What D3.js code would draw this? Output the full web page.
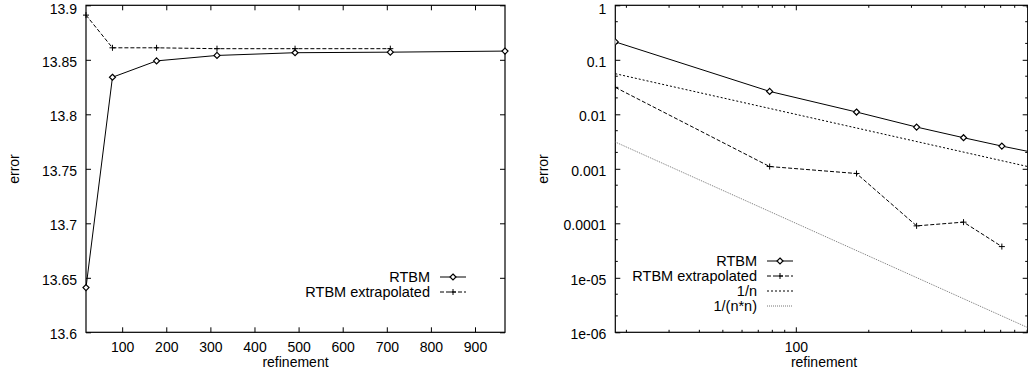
<!DOCTYPE html>
<html lang="en">
<head>
<meta charset="UTF-8">
<title>RTBM refinement</title>
<style>
  body { margin: 0; background: #fff; }
  svg { display: block; font-family: "Liberation Sans", Arial, sans-serif; }
  .frame { fill: none; stroke: #000; stroke-width: 1.2; }
  .tick line { stroke: #000; stroke-width: 1; }
  .tick text { font-size: 14px; fill: #000; }
  .label { font-size: 14px; fill: #000; }
  .legend text { font-size: 14.5px; fill: #000; }
</style>
</head>
<body>
<svg></svg>
<script src="https://d3js.org/d3.v7.min.js"></script>
<script>
  // refinement levels (x) and the two result series
  const refinement = [18, 78, 178, 315, 492, 708, 968];
  const rtbm = [13.641, 13.834, 13.849, 13.854, 13.8565, 13.857, 13.858];
  const rtbmExtrap = [13.891, 13.861, 13.861, 13.8602, 13.8602, 13.8602];

  // errors for the log-log plot
  const rtbmError = [0.213, 0.0263, 0.0110, 0.00583, 0.00372, 0.00261, 0.00197];
  const extrapError = [0.0312, 0.0011, 0.00082, 0.0000897, 0.000105, 0.0000374];

  // reference slopes, end points
  const refX = [18, 905];
  const invN = [0.0556, 0.0011];
  const invN2 = [0.0031, 0.00000122];

  const leftXTicks = [100, 200, 300, 400, 500, 600, 700, 800, 900];
  const leftYTicks = [13.6, 13.65, 13.7, 13.75, 13.8, 13.85, 13.9];
  const leftYLabels = ['13.6', '13.65', '13.7', '13.75', '13.8', '13.85', '13.9'];
  const rightYTicks = [1, 0.1, 0.01, 0.001, 0.0001, 0.00001, 0.000001];
  const rightYLabels = ['1', '0.1', '0.01', '0.001', '0.0001', '1e-05', '1e-06'];

  let width = 1028,
    height = 372;

  let svg = d3.select('svg')
    .attr('width', width)
    .attr('height', height);

  svg.append('defs').append('clipPath')
    .attr('id', 'clipR')
    .append('rect')
    .attr('x', 615.3).attr('y', 5.3)
    .attr('width', 412.4).attr('height', 327);

  function diamond(g, pts) {
    g.selectAll(null).data(pts).enter().append('path')
      .attr('d', d => `M${d[0]},${d[1] - 3}L${d[0] + 3},${d[1]}L${d[0]},${d[1] + 3}L${d[0] - 3},${d[1]}Z`)
      .attr('fill', '#fff')
      .attr('stroke', '#000')
      .attr('stroke-width', 1.2);
  }

  function plus(g, pts) {
    g.selectAll(null).data(pts).enter().append('path')
      .attr('d', d => `M${d[0] - 3},${d[1]}H${d[0] + 3}M${d[0]},${d[1] - 3}V${d[1] + 3}`)
      .attr('stroke', '#000')
      .attr('stroke-width', 1);
  }

  function frameAxes(x, y, xTicks, yTicks, xFmt, yFmt, xMinor, yMinor) {
    let [x0, x1] = x.range();
    let [y0, y1] = y.range();

    let bottom = svg.append('g').attr('transform', `translate(0,${y0})`)
      .call(d3.axisBottom(x).tickValues(xTicks).tickSizeInner(-5).tickSizeOuter(0).tickPadding(10).tickFormat(xFmt));
    let top = svg.append('g').attr('transform', `translate(0,${y1})`)
      .call(d3.axisTop(x).tickValues(xTicks).tickSizeInner(-5).tickSizeOuter(0).tickFormat(''));
    let left = svg.append('g').attr('transform', `translate(${x0},0)`)
      .call(d3.axisLeft(y).tickValues(yTicks).tickSizeInner(-5).tickSizeOuter(0).tickPadding(9).tickFormat(yFmt));
    let right = svg.append('g').attr('transform', `translate(${x1},0)`)
      .call(d3.axisRight(y).tickValues(yTicks).tickSizeInner(-5).tickSizeOuter(0).tickFormat(''));

    if (xMinor) {
      bottom.selectAll(null).data(xMinor).enter().append('line')
        .attr('x1', d => x(d)).attr('x2', d => x(d)).attr('y1', 0).attr('y2', -2.5).attr('stroke', '#000');
      top.selectAll(null).data(xMinor).enter().append('line')
        .attr('x1', d => x(d)).attr('x2', d => x(d)).attr('y1', 0).attr('y2', 2.5).attr('stroke', '#000');
    }
    if (yMinor) {
      left.selectAll(null).data(yMinor).enter().append('line')
        .attr('y1', d => y(d)).attr('y2', d => y(d)).attr('x1', 0).attr('x2', 2.5).attr('stroke', '#000');
      right.selectAll(null).data(yMinor).enter().append('line')
        .attr('y1', d => y(d)).attr('y2', d => y(d)).attr('x1', 0).attr('x2', -2.5).attr('stroke', '#000');
    }

    [bottom, top, left, right].forEach(a => a.select('.domain').remove());
    // the topmost label sits a little lower so it stays inside the page
    left.selectAll('.tick text').attr('dy', d => y(d) - y1 < 2 ? '0.55em' : '0.45em');
    bottom.selectAll('.tick text').attr('y', 9).attr('dy', '0.75em');

    svg.append('rect').attr('class', 'frame')
      .attr('x', x0).attr('y', y1)
      .attr('width', x1 - x0).attr('height', y0 - y1);
  }

  function legend(xEnd, yStart, items) {
    let g = svg.append('g').attr('class', 'legend');
    items.forEach((it, i) => {
      let yy = yStart + i * 15;
      g.append('text').attr('x', xEnd).attr('y', yy).attr('dy', '0.35em')
        .attr('text-anchor', 'end').text(it.name);
      g.append('line')
        .attr('x1', xEnd + 10).attr('x2', xEnd + 36)
        .attr('y1', yy).attr('y2', yy)
        .attr('stroke', it.color || '#000')
        .attr('stroke-dasharray', it.dash || null);
      let mid = [[xEnd + 23, yy]];
      if (it.mark === 'diamond') diamond(g, mid);
      if (it.mark === 'plus') plus(g, mid);
    });
  }

  // ---------- left chart: linear ----------
  let xL = d3.scaleLinear().domain([18, 968]).range([86, 505]);
  let yL = d3.scaleLinear().domain([13.6, 13.9]).range([332.3, 5.3]);

  frameAxes(xL, yL, leftXTicks, leftYTicks, d => d, (d, i) => leftYLabels[i]);

  let lineL = d3.line().x(d => xL(d[0])).y(d => yL(d[1]));
  let ptsL1 = refinement.map((r, i) => [r, rtbm[i]]);
  let ptsL2 = rtbmExtrap.map((v, i) => [refinement[i], v]);

  svg.append('path').attr('d', lineL(ptsL2)).attr('fill', 'none')
    .attr('stroke', '#000').attr('stroke-dasharray', '4,2');
  svg.append('path').attr('d', lineL(ptsL1)).attr('fill', 'none')
    .attr('stroke', '#000');
  plus(svg.append('g'), ptsL2.map(d => [xL(d[0]), yL(d[1])]));
  diamond(svg.append('g'), ptsL1.map(d => [xL(d[0]), yL(d[1])]));

  svg.append('text').attr('class', 'label')
    .attr('x', (86 + 505) / 2).attr('y', 367).attr('text-anchor', 'middle').text('refinement');
  svg.append('text').attr('class', 'label')
    .attr('transform', 'translate(19,169) rotate(-90)').attr('text-anchor', 'middle').text('error');

  legend(430, 277, [
    { name: 'RTBM', mark: 'diamond' },
    { name: 'RTBM extrapolated', mark: 'plus', dash: '4,2' }
  ]);

  // ---------- right chart: log-log ----------
  let xR = d3.scaleLog().domain([18, 905]).range([615.3, 1027.7]);
  let yR = d3.scaleLog().domain([0.000001, 1]).range([332.3, 5.3]);

  let xMinorR = [20, 30, 40, 50, 60, 70, 80, 90, 200, 300, 400, 500, 600, 700, 800, 900];
  let yMinorR = [];
  rightYTicks.slice(1).forEach(t => { yMinorR.push(t * 2, t * 5); });

  frameAxes(xR, yR, [100], rightYTicks, d => d, (d, i) => rightYLabels[i], xMinorR, yMinorR);

  let lineR = d3.line().x(d => xR(d[0])).y(d => yR(d[1]));
  let gR = svg.append('g').attr('clip-path', 'url(#clipR)');

  gR.append('path').attr('d', lineR(refX.map((r, i) => [r, invN2[i]]))).attr('fill', 'none')
    .attr('stroke', '#777').attr('stroke-dasharray', '1,1');
  gR.append('path').attr('d', lineR(refX.map((r, i) => [r, invN[i]]))).attr('fill', 'none')
    .attr('stroke', '#000').attr('stroke-dasharray', '2,2');

  let ptsR1 = refinement.map((r, i) => [r, rtbmError[i]]);
  let ptsR2 = extrapError.map((v, i) => [refinement[i], v]);
  gR.append('path').attr('d', lineR(ptsR2)).attr('fill', 'none')
    .attr('stroke', '#000').attr('stroke-dasharray', '4,2');
  gR.append('path').attr('d', lineR(ptsR1)).attr('fill', 'none')
    .attr('stroke', '#000');
  plus(gR.append('g'), ptsR2.map(d => [xR(d[0]), yR(d[1])]));
  diamond(gR.append('g'), ptsR1.filter(d => d[0] <= 905).map(d => [xR(d[0]), yR(d[1])]));

  svg.append('text').attr('class', 'label')
    .attr('x', 824).attr('y', 367).attr('text-anchor', 'middle').text('refinement');
  svg.append('text').attr('class', 'label')
    .attr('transform', 'translate(548,169) rotate(-90)').attr('text-anchor', 'middle').text('error');

  legend(757, 261, [
    { name: 'RTBM', mark: 'diamond' },
    { name: 'RTBM extrapolated', mark: 'plus', dash: '4,2' },
    { name: '1/n', dash: '2,2' },
    { name: '1/(n*n)', dash: '1,1', color: '#777' }
  ]);
</script>
</body>
</html>
